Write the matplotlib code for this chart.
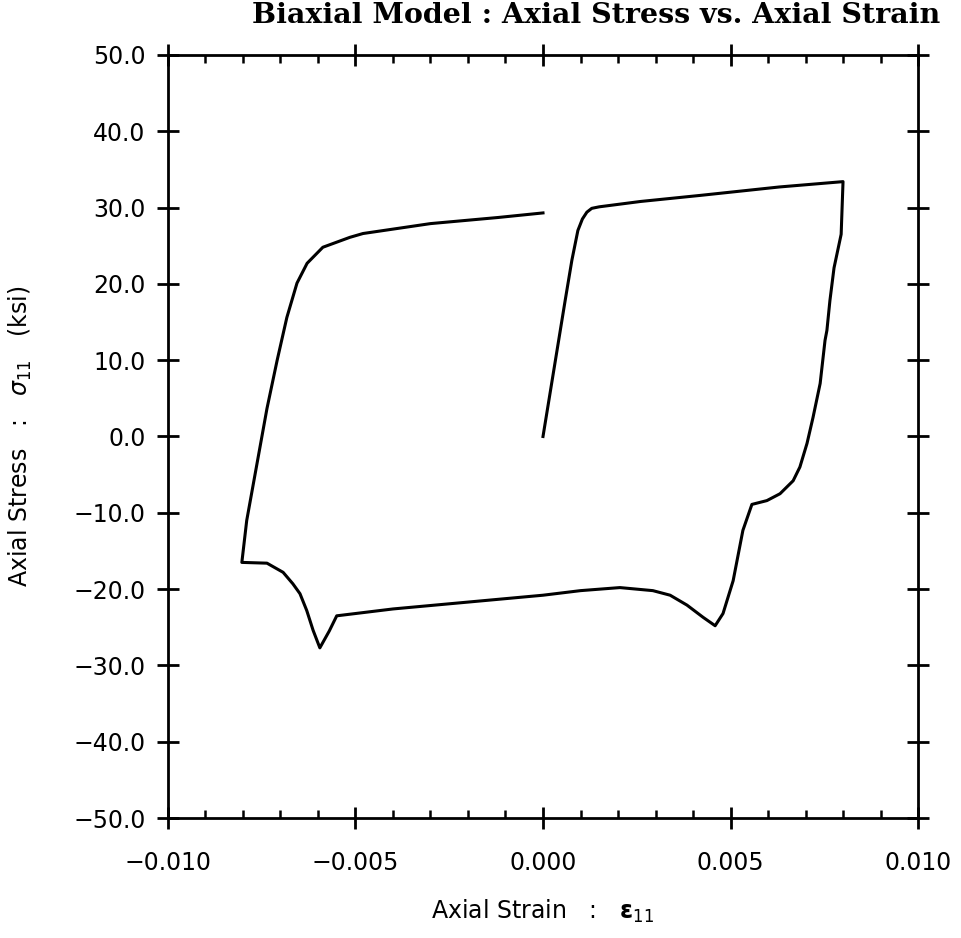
import matplotlib.pyplot as plt
from matplotlib.ticker import MultipleLocator, FuncFormatter

# hysteresis loop (strain, stress in ksi)
strain = [0.0, 0.00059, 0.00077, 0.00093, 0.00105, 0.00117, 0.0013, 0.0015, 0.0026, 0.0042, 0.0063, 0.0080,
          0.00795, 0.00776, 0.00765, 0.00757, 0.00752, 0.00739, 0.0072, 0.00704, 0.00685,
          0.00667, 0.00632, 0.00597, 0.00557, 0.00533, 0.00507, 0.0048, 0.00459,
          0.00427, 0.00384, 0.00339, 0.00293, 0.00205, 0.0010, 0.0, -0.002, -0.004,
          -0.0055, -0.0057, -0.00595, -0.00613, -0.0063, -0.00648, -0.00667, -0.00693,
          -0.00736, -0.00803, -0.0079, -0.00736, -0.00709, -0.00683, -0.00656, -0.00629,
          -0.00587, -0.00515, -0.0048, -0.003, -0.0012, 0.0]
stress = [0.0, 17.8, 23.1, 27.0, 28.5, 29.4, 29.9, 30.1, 30.8, 31.6, 32.7, 33.4,
          26.5, 22.1, 17.8, 13.9, 12.6, 6.95, 2.5, -0.9, -4.0,
          -5.8, -7.5, -8.4, -8.9, -12.3, -18.9, -23.2, -24.8,
          -23.7, -22.1, -20.8, -20.2, -19.8, -20.2, -20.8, -21.7, -22.6,
          -23.5, -25.5, -27.7, -25.4, -22.8, -20.6, -19.3, -17.8,
          -16.6, -16.5, -11.0, 3.67, 9.96, 15.6, 20.1, 22.7,
          24.8, 26.1, 26.6, 27.9, 28.7, 29.3]

xticks = [-0.010, -0.005, 0.000, 0.005, 0.010]
yticks = [-50, -40, -30, -20, -10, 0, 10, 20, 30, 40, 50]


def fmt(digits):
    return FuncFormatter(lambda v, p: f'{v:.{digits}f}'.replace('-', '\u2212'))


fig = plt.figure(figsize=(9.62, 9.38), dpi=100)
ax = fig.add_axes([0.1746, 0.1279, 0.7797, 0.8135])

ax.plot(strain, stress, color='black', lw=2.2)

ax.set_xlim(-0.010, 0.010)
ax.set_ylim(-50, 50)
ax.set_xticks(xticks)
ax.set_yticks(yticks)
ax.xaxis.set_minor_locator(MultipleLocator(0.001))
ax.xaxis.set_major_formatter(fmt(3))
ax.yaxis.set_major_formatter(fmt(1))

for s in ax.spines.values():
    s.set_linewidth(2)
ax.tick_params(which='major', direction='inout', length=16, width=2,
               top=True, right=True, labelsize=17)
ax.tick_params(axis='x', which='minor', direction='in', length=6, width=1.8,
               top=True, bottom=True)
ax.tick_params(axis='x', which='major', pad=16)
ax.tick_params(axis='y', which='major', pad=8)

ax.set_xlabel(r'Axial Strain   :   $\mathbf{\varepsilon}_{11}$', fontsize=17, labelpad=16)
ax.set_ylabel(r'Axial Stress   :   $\sigma_{11}$   (ksi)', fontsize=17, labelpad=28)

fig.text(0.62, 0.984, 'Biaxial Model : Axial Stress vs. Axial Strain',
         family='DejaVu Serif', fontweight='bold', fontsize=20.5,
         ha='center', va='center')

plt.savefig('out.png', dpi=100)
